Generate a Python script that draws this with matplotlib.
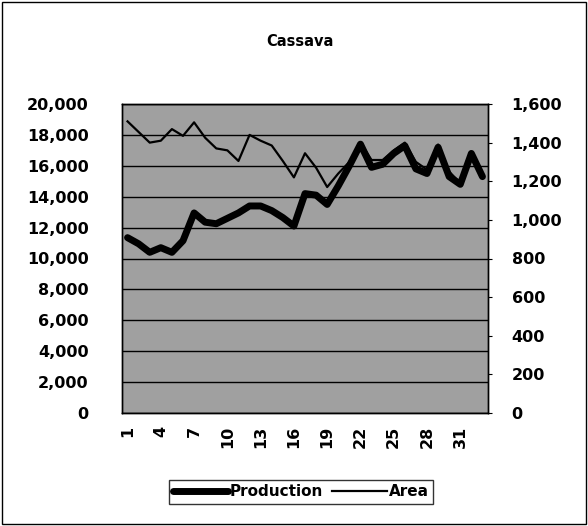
import matplotlib
matplotlib.use('Agg')
import matplotlib.pyplot as plt
import numpy as np
from matplotlib.patches import Rectangle
from matplotlib.ticker import FuncFormatter, MultipleLocator

obs = np.arange(1, 34)
production = [11350, 10950, 10400, 10700, 10400, 11150, 12950, 12350, 12250, 12600,
              12950, 13400, 13400, 13100, 12650, 12100, 14200, 14100, 13500, 14700,
              16000, 17400, 15900, 16100, 16800, 17300, 15800, 15500, 17200, 15300,
              14800, 16800, 15300]
area = [1510, 1455, 1400, 1410, 1470, 1435, 1505, 1425, 1370, 1360,
        1305, 1440, 1410, 1385, 1305, 1220, 1345, 1270, 1170, 1240,
        1300, 1400, 1310, 1310, 1360, 1400, 1300, 1260, 1390, 1250,
        1190, 1340, 1230]
xtick_labels = [str(i) for i in range(1, 34, 3)]

plt.rcParams['font.family'] = 'DejaVu Sans'
plt.rcParams['font.weight'] = 'bold'

fig = plt.figure(figsize=(5.88, 5.26), dpi=100)
ax = fig.add_axes([122/588, 113/526, 366/588, 309/526])
ax2 = ax.twinx()

ax.set_facecolor('#a0a0a0')
ax.set_zorder(ax2.get_zorder() - 1)
ax2.patch.set_visible(False)

# production on the left scale (0-20,000) drawn on the right axes via 1600/20000
l1, = ax2.plot(obs, np.array(production) * 0.08, color='black', lw=5,
               solid_joinstyle='round', solid_capstyle='round', zorder=3)
l2, = ax2.plot(obs, area, color='black', lw=1.6, zorder=4)

ax.set_xlim(0.5, 33.5)
ax.set_ylim(0, 20000)
ax2.set_ylim(0, 1600)
ax.yaxis.set_major_locator(MultipleLocator(2000))
ax2.yaxis.set_major_locator(MultipleLocator(200))
ax.grid(axis='y', color='black', lw=1)

fmt = FuncFormatter(lambda v, p: f'{int(v):,}')
ax.yaxis.set_major_formatter(fmt)
ax2.yaxis.set_major_formatter(fmt)

ax.set_xticks(range(1, 34, 3))
ax.set_xticklabels(xtick_labels, rotation=90)
ax.tick_params(axis='x', length=0, pad=9, labelsize=11.5)
ax.tick_params(axis='y', length=0, pad=24, labelsize=11.5)
ax2.tick_params(axis='y', length=3, pad=14, labelsize=11.5)

for a in (ax, ax2):
    for s in a.spines.values():
        s.set_color('black')
        s.set_linewidth(1)

fig.text(0.51, 0.922, 'Cassava', ha='center', va='center', fontsize=10.5, weight='bold')

leg = fig.legend([l1, l2], ['Production', 'Area'], loc='center',
                 bbox_to_anchor=(301/588, 1 - 492/526), ncol=2, frameon=True,
                 fancybox=False, edgecolor='black', fontsize=11,
                 handlelength=3.6, handletextpad=0.1, columnspacing=0.6,
                 borderpad=0.3)
leg.get_frame().set_linewidth(1)

fig.patches.append(Rectangle((0.004, 0.004), 0.992, 0.992, transform=fig.transFigure,
                             fill=False, edgecolor='black', lw=1))

fig.savefig('out.png', dpi=100)
